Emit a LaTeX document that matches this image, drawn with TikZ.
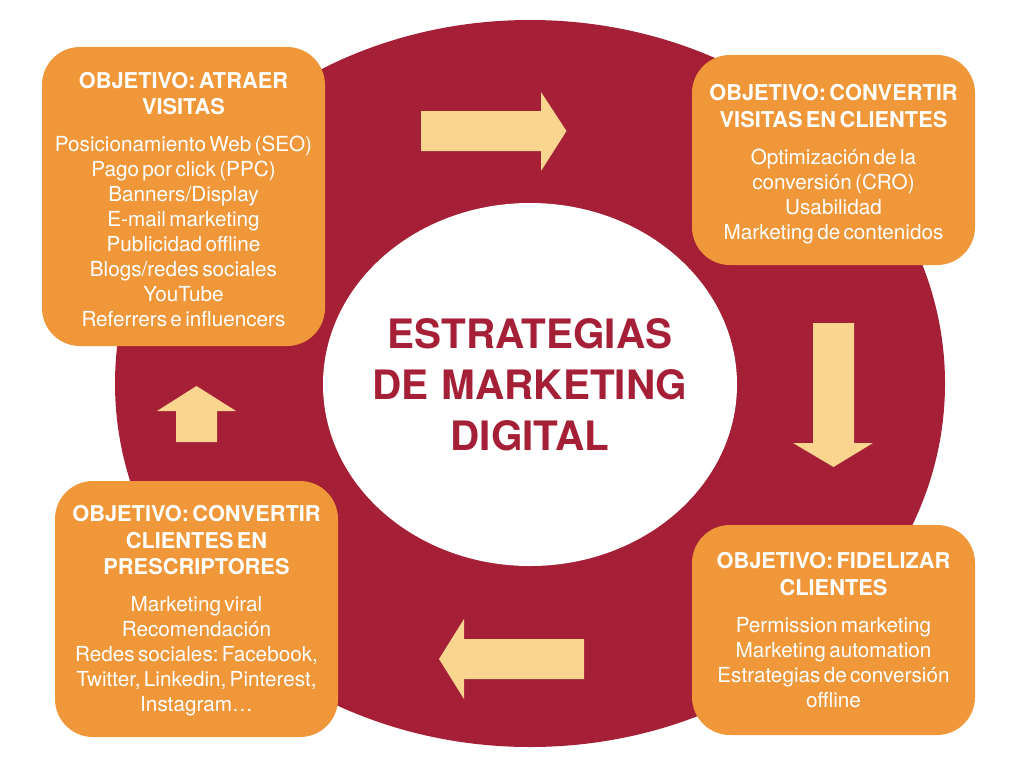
\documentclass[tikz,border=0pt]{standalone}
\usepackage{fontspec}
\setmainfont[WordSpace=1.15]{TeX Gyre Heros}
\usetikzlibrary{shapes.geometric}
\definecolor{ringred}{HTML}{A52036}
\definecolor{boxorange}{HTML}{F0973A}
\definecolor{arrowyellow}{HTML}{F9D590}
\frenchspacing
\newcommand\ttlfont{\fontsize{21.8}{26.5}\selectfont\bfseries}
\newcommand\bdyfont{\fontsize{20.7}{25}\selectfont\mdseries}
\begin{document}
\begin{tikzpicture}[x=1pt,y=-1pt,
  objbox/.style={rectangle, rounded corners=38pt, fill=boxorange, text=white,
    minimum width=283pt, text width=280pt, align=center, inner sep=0pt, outer sep=0pt},
  boxtext/.style={text=white, text width=282pt, align=center, inner sep=0pt},
  bigarrow/.style={fill=arrowyellow}
]
\useasboundingbox (0,0) rectangle (1024,768);
\fill[white] (0,0) rectangle (1024,768);
% ring
\node[ellipse, fill=ringred, minimum width=830pt, minimum height=727pt, inner sep=0pt] (ring) at (530,383.5) {};
% arrows
\fill[bigarrow] (421,111) -- (541,111) -- (541,92) -- (566.5,131) -- (541,171) -- (541,151) -- (421,151) -- cycle;
\fill[bigarrow] (813,323) -- (854,323) -- (854,443) -- (873,443) -- (833.5,467) -- (793,443) -- (813,443) -- cycle;
\fill[bigarrow] (584,639) -- (464,639) -- (464,619) -- (439,659) -- (464,699) -- (464,679) -- (584,679) -- cycle;
\fill[bigarrow] (176,442) -- (217,442) -- (217,411) -- (236,411) -- (196.5,386) -- (157,411) -- (176,411) -- cycle;
% centre
\node[ellipse, fill=white, minimum width=414pt, minimum height=363pt, inner sep=0pt] (centre) at (530,384.5) {};
\node[text=ringred, align=center, inner sep=0pt, font=\fontsize{40.5}{51}\selectfont\bfseries] (centretext) at (530,384.5)
  {ESTRATEGIAS\\DE MARKETING\\DIGITAL};
% boxes
\node[objbox, minimum height=299pt] (atraer) at (183.5,196.5) {};
\node[boxtext] (atraertext) at (183.5,199.5)
  {\ttlfont OBJETIVO: ATRAER\\VISITAS\par\vspace{12pt}
   \bdyfont Posicionamiento Web (SEO)\\Pago por click (PPC)\\Banners/Display\\E-mail marketing\\Publicidad offline\\Blogs/redes sociales\\YouTube\\Referrers e influencers\par};
\node[objbox, minimum height=210pt] (convertir) at (833.5,160) {};
\node[boxtext] (convertirtext) at (833.5,164)
  {\ttlfont OBJETIVO: CONVERTIR\\VISITAS EN CLIENTES\par\vspace{12pt}
   \bdyfont Optimización de la\\conversión (CRO)\\Usabilidad\\Marketing de contenidos\par};
\node[objbox, minimum height=210pt] (fidelizar) at (833.5,630) {};
\node[boxtext] (fidelizartext) at (833.5,630)
  {\ttlfont OBJETIVO: FIDELIZAR\\CLIENTES\par\vspace{12pt}
   \bdyfont Permission marketing\\Marketing automation\\Estrategias de conversión\\offline\par};
\node[objbox, minimum height=256pt] (prescriptores) at (196.5,609) {};
\node[boxtext] (prescriptorestext) at (196.5,611)
  {\ttlfont OBJETIVO: CONVERTIR\\CLIENTES EN\\PRESCRIPTORES\par\vspace{12pt}
   \bdyfont Marketing viral\\Recomendación\\Redes sociales: Facebook,\\Twitter, Linkedin, Pinterest,\\Instagram…\par};
\end{tikzpicture}
\end{document}
